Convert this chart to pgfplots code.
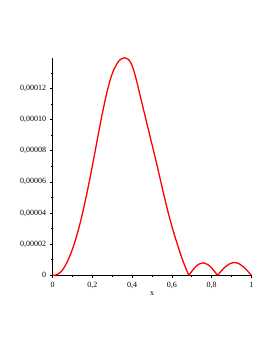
\documentclass[border=0pt]{standalone}
\usepackage{fontspec}
\setmainfont{Liberation Serif}
\usepackage{pgfplots}
\pgfplotsset{compat=1.18}
\begin{document}
\begin{tikzpicture}[x=1pt,y=1pt]
\path[use as bounding box] (0,0) rectangle (274,355);
\begin{axis}[
  at={(52.7pt,79.7pt)}, anchor=south west,
  scale only axis, width=198.6pt, height=217.6pt,
  xmin=0, xmax=1, ymin=0, ymax=0.0001397,
  axis x line*=bottom, axis y line*=left,
  axis line style={-, black, line width=0.7pt},
  tick align=outside,
  major tick length=3pt, minor tick length=2pt,
  tick style={black, line width=0.6pt},
  xtick={0,0.2,0.4,0.6,0.8,1},
  xticklabels={0,{0,2},{0,4},{0,6},{0,8},1},
  minor xtick={0.1,0.3,0.5,0.7,0.9},
  ytick={0,0.00002,0.00004,0.00006,0.00008,0.0001,0.00012},
  yticklabels={0,{0,00002},{0,00004},{0,00006},{0,00008},{0,00010},{0,00012}},
  minor ytick={0.00001,0.00003,0.00005,0.00007,0.00009,0.00011,0.00013},
  scaled y ticks=false,
  tick label style={font=\fontsize{8}{9}\selectfont},
  xlabel={x},
  xlabel style={font=\fontsize{8}{9}\selectfont, at={(axis description cs:0.5,0)}, anchor=north, yshift=-13pt},
  clip=false,
]
\addplot[red, line width=1.3pt, smooth, tension=0.7] table[x=x, y expr=\thisrow{y}*1e-5] {
x y
0 0
0.02 0.03
0.04 0.2
0.06 0.55
0.08 1.05
0.10 1.7
0.12 2.5
0.14 3.45
0.16 4.55
0.18 5.75
0.20 7.05
0.22 8.4
0.24 9.75
0.26 11.0
0.28 12.1
0.30 12.95
0.32 13.5
0.34 13.85
0.36 13.97
0.38 13.88
0.40 13.45
0.42 12.6
0.44 11.55
0.46 10.5
0.48 9.45
0.50 8.4
0.52 7.35
0.54 6.25
0.56 5.15
0.58 4.1
0.60 3.15
0.62 2.3
0.64 1.5
0.66 0.78
0.685 0
};
\addplot[red, line width=1.3pt, smooth, tension=0.6] table[x=x, y expr=\thisrow{y}*1e-5] {
x y
0.685 0
0.70 0.25
0.72 0.55
0.74 0.74
0.76 0.8
0.78 0.70
0.80 0.48
0.815 0.25
0.83 0
};
\addplot[red, line width=1.3pt, smooth, tension=0.6] table[x=x, y expr=\thisrow{y}*1e-5] {
x y
0.83 0
0.85 0.30
0.87 0.55
0.89 0.73
0.915 0.82
0.94 0.73
0.96 0.55
0.98 0.30
1.0 0
};
\end{axis}
\end{tikzpicture}
\end{document}
